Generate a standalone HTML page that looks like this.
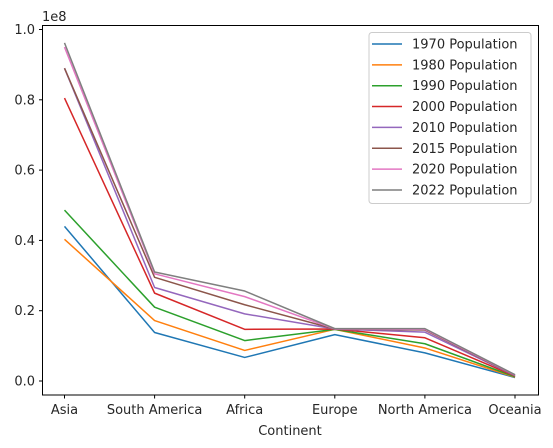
<!DOCTYPE html>
<html><head><meta charset="utf-8"><style>
body{margin:0;background:#fff}
svg{display:block;font-family:"DejaVu Sans","Liberation Sans",sans-serif}
</style></head><body>
<svg id="chart" width="553" height="448" viewBox="0 0 553 448">
<rect x="0" y="0" width="553" height="448" fill="#fff"/>
<g id="lines"></g>
<rect x="42.5" y="25.5" width="496" height="369.5" fill="none" stroke="#000" stroke-width="1"/>
<g id="yticks" font-size="13" fill="#262626"></g>
<g id="xticks" font-size="13" fill="#262626"></g>
<text x="42" y="21" font-size="13" fill="#262626">1e8</text>
<text x="290" y="435" font-size="13" text-anchor="middle" fill="#262626">Continent</text>
<g id="legend" font-size="13" fill="#262626"></g>
</svg>
<script>
const categories=["Asia","South America","Africa","Europe","North America","Oceania"];
const seriesNames=["1970 Population","1980 Population","1990 Population","2000 Population","2010 Population","2015 Population","2020 Population","2022 Population"];
const s1970=[0.440,0.138,0.067,0.132,0.080,0.010];
const s1980=[0.403,0.172,0.087,0.147,0.094,0.011];
const s1990=[0.486,0.210,0.115,0.147,0.106,0.012];
const s2000=[0.805,0.250,0.147,0.148,0.123,0.014];
const s2010=[0.890,0.266,0.191,0.148,0.139,0.015];
const s2015=[0.890,0.295,0.217,0.148,0.145,0.016];
const s2020=[0.950,0.305,0.240,0.148,0.147,0.017];
const s2022=[0.962,0.310,0.256,0.149,0.149,0.018];
const yTickValues=[0,0.2,0.4,0.6,0.8,1.0];
const yTickLabels=["0.0","0.2","0.4","0.6","0.8","1.0"];
const colors=["#1f77b4","#ff7f0e","#2ca02c","#d62728","#9467bd","#8c564b","#e377c2","#7f7f7f"];
const allSeries=[s1970,s1980,s1990,s2000,s2010,s2015,s2020,s2022];
const NS="http://www.w3.org/2000/svg";
function xScale(i){return 64.5+i*90.1;}
function yScale(v){return 381-v*351.5;}
function mk(t,a,p){const e=document.createElementNS(NS,t);for(const k in a)e.setAttribute(k,a[k]);p.appendChild(e);return e;}
const gl=document.getElementById('lines');
allSeries.forEach((s,si)=>{
  const p=mk('polyline',{points:s.map((v,i)=>xScale(i)+','+yScale(v)).join(' '),fill:'none',stroke:colors[si],'stroke-width':1.5,'stroke-linejoin':'round'},gl);
  
  
});
const gy=document.getElementById('yticks');
yTickValues.forEach((v,i)=>{
  const y=yScale(v);
  mk('line',{x1:39,x2:42.5,y1:y,y2:y,stroke:'#000'},gy);
  const t=mk('text',{x:35,y:y+4.5,'text-anchor':'end'},gy);t.textContent=yTickLabels[i];
  
  
});
const gx=document.getElementById('xticks');
categories.forEach((c,i)=>{
  const x=xScale(i);
  mk('line',{x1:x,x2:x,y1:395,y2:398.5,stroke:'#000'},gx);
  const t=mk('text',{x:x,y:414,'text-anchor':'middle'},gx);t.textContent=c;
  
  
});
const lg=document.getElementById('legend');
const box=mk('rect',{x:369,y:32.5,width:162,height:171,rx:3,fill:'#fff','fill-opacity':0.8,stroke:'#ccc'},lg);


seriesNames.forEach((n,i)=>{
  const y=44+i*20.85;
  mk('line',{x1:372,x2:402,y1:y,y2:y,stroke:colors[i],'stroke-width':1.5},lg);
  const t=mk('text',{x:412,y:y+4.5},lg);t.textContent=n;
  
  
});
</script>
</body></html>
